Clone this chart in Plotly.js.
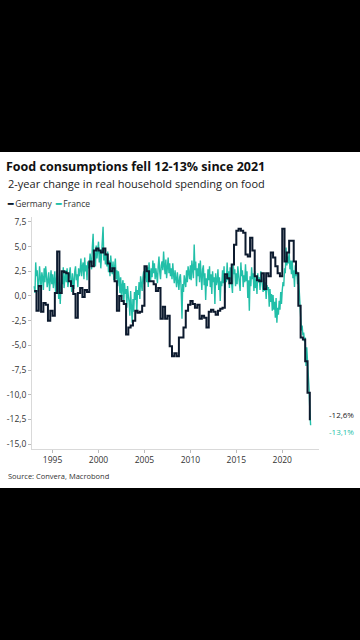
<!DOCTYPE html>
<html>
<head>
<meta charset="utf-8">
<script src="https://cdn.plot.ly/plotly-3.0.1.min.js"></script>
<style>
html,body{margin:0;padding:0;background:#000;width:360px;height:640px;overflow:hidden;}
#chart{position:absolute;left:0;top:152px;width:360px;height:336px;}
</style>
</head>
<body>
<div id="chart"></div>
<script>
// ---- data ----
const germanyStart = [1993, 1];   // quarterly, first quarter
const germany = [
  0.5, -1.5, 1.0, -1.6,      // 1993
  -0.7, -0.9, -2.5, -1.5,    // 1994
  -2.0, 0.3, 4.5, 0.3,       // 1995
  2.5, 2.4, 2.3, 1.5,        // 1996
  1.0, 0.2, -2.2, 0.3,       // 1997
  0.8, -0.1, 0.6, 0.4,       // 1998
  3.5, 3.0, 4.6, 4.8,        // 1999
  4.6, 4.4, 4.8, 4.2,        // 2000
  3.3, 2.5, 2.8, 1.5,        // 2001
  -1.5, 0.0, -0.5, -0.8,     // 2002
  -3.9, -3.2, -3.0, -2.5,    // 2003
  -1.5, -1.7, -1.6, -1.0,    // 2004
  3.0, 2.5, 1.5, 1.5,        // 2005
  1.2, 0.5, 0.8, -2.3,       // 2006
  -1.1, -2.3, -2.0, -5.1,    // 2007
  -6.1, -5.8, -6.1, -4.2,    // 2008
  -4.2, -3.2, -1.5, -0.9,    // 2009
  -0.5, -0.8, -1.2, -0.9,    // 2010
  -2.3, -2.0, -2.2, -3.2,    // 2011
  -1.6, -1.4, -1.6, -1.9,    // 2012
  -1.5, -1.3, -1.2, 2.2,     // 2013
  1.8, 1.3, 3.2, 5.2,        // 2014
  6.6, 6.8, 6.6, 6.4,        // 2015
  4.2, 4.0, 5.9, 4.6,        // 2016
  2.0, 1.6, 1.5, 2.3,        // 2017
  0.7, 2.3, 2.0, 4.4,        // 2018
  3.9, 3.0, 2.3, 2.0,        // 2019
  6.8, 3.5, 4.4, 5.6,        // 2020
  5.6, 3.5, 2.3, -1.0,       // 2021
  -4.2, -4.4, -6.6, -9.8,    // 2022
  -12.6                      // 2023
];
const franceStart = [1993, 1];    // monthly, first month
const france = [
  1.0, 0.3, 3.4, 2.0, 2.6, 0.4, 1.2, 3.0, 1.8, 0.8, 2.4, 1.9,      // 1993
  0.6, 2.8, 1.4, 3.0, 2.2, 0.9, 1.5, 2.4, 0.5, 1.7, 2.6, 1.2,      // 1994
  2.2, 0.8, 1.6, 2.5, 0.4, 1.3, 2.6, 1.9, -0.3, 1.4, -0.8, 0.9,    // 1995
  2.0, 1.2, 2.9, 0.8, 1.6, 2.6, 1.4, 2.8, 0.9, 1.8, 2.2, 2.9,      // 1996
  1.5, 0.4, 2.3, 1.7, 0.7, 2.5, 3.0, 1.6, 2.2, 0.9, 2.8, 2.0,      // 1997
  2.6, 3.8, 2.0, 3.0, 3.4, 1.7, 3.9, 2.5, 3.1, 1.6, 3.5, 2.8,      // 1998
  3.1, 4.3, 3.5, 2.7, 5.0, 6.3, 3.6, 4.4, 3.0, 5.1, 3.8, 4.6,      // 1999
  5.5, 3.4, 4.6, 2.8, 4.0, 5.7, 7.0, 3.6, 4.8, 3.2, 4.3, 3.0,      // 2000
  4.5, 2.4, 3.6, 2.0, 4.1, 3.0, 2.2, 3.5, 1.6, 2.9, 3.8, 1.7,      // 2001
  2.6, 1.0, 2.5, 1.8, 0.3, 1.9, -0.4, 1.1, 1.6, -0.9, 1.3, 0.2,    // 2002
  0.7, -1.2, 1.0, 0.0, -0.6, -2.0, 0.5, -1.1, -2.7, -0.3, -1.6, 0.4, // 2003
  -0.4, 1.0, -1.7, 0.6, 0.1, 1.4, -0.3, 2.0, 1.1, 0.5, 1.9, 2.5,   // 2004
  1.2, 3.0, 2.1, 1.4, 2.9, 0.9, 3.4, 2.0, 1.5, 2.8, 1.9, 3.6,      // 2005
  2.3, 3.3, 1.7, 2.8, 2.2, 1.3, 3.0, 4.0, 2.4, 1.7, 3.1, 3.5,      // 2006
  2.6, 4.5, 3.1, 2.2, 3.7, 1.8, 2.9, 3.9, 2.3, 3.3, 2.0, 2.8,      // 2007
  1.7, 3.3, 2.2, 1.3, 2.6, 1.9, 0.9, 2.4, 1.5, 0.6, 1.9, 2.2,      // 2008
  0.6, -2.3, 1.2, 0.4, 2.1, 1.5, 0.9, 2.6, 1.4, 3.0, 2.2, 1.7,     // 2009
  3.1, 1.6, 3.6, 2.4, 1.8, 5.2, 2.6, 3.5, 1.0, 2.8, 2.0, 3.3,      // 2010
  1.4, 3.6, 2.0, 0.6, 2.7, 3.1, 1.1, 2.3, -0.4, 1.8, 1.0, 2.7,     // 2011
  1.6, 3.0, 0.9, 2.2, 0.2, 2.5, 1.4, 1.9, -0.8, 2.3, 1.1, 1.5,     // 2012
  2.7, 0.6, 1.9, -0.5, 1.5, 1.0, 2.6, 1.3, 3.0, 0.3, 2.0, 1.4,     // 2013
  3.4, 1.6, 2.5, 0.8, 2.9, 2.1, 1.2, 0.3, 3.2, 2.2, 2.7, 1.0,      // 2014
  2.3, 1.2, 3.0, 1.8, 1.1, 0.5, 3.4, 2.0, 2.6, 0.9, 2.1, 1.4,      // 2015
  3.2, 1.5, 2.5, -0.2, 1.6, -1.5, 2.0, 1.0, 2.9, 1.7, 2.3, 0.5,    // 2016
  2.5, 0.8, 1.7, 0.2, 2.3, 1.4, 1.9, 0.6, 2.5, 1.5, 1.2, 0.4,      // 2017
  1.8, 0.5, 1.4, -0.3, 1.1, 0.6, 0.9, -1.1, 0.7, -0.6, 0.2, -1.5,  // 2018
  0.1, -1.4, -0.6, -2.2, -0.2, -2.7, -1.2, -1.9, -0.5, -1.4, 0.4, -0.8, // 2019
  0.6, 1.4, 1.0, 2.8, 2.3, 4.9, 3.1, 4.0, 3.3, 4.5, 2.7, 3.6,      // 2020
  2.2, 3.6, 1.8, 2.6, 0.9, 3.1, 2.0, 2.5, 1.2, 2.3, 0.8, -0.5,     // 2021
  -1.2, -3.5, -3.0, -4.0, -3.7, -4.6, -4.2, -7.1, -5.2, -6.4, -8.0, -9.4, // 2022
  -11.5, -13.1                                                     // 2023
];
const seriesNames = ["Germany", "France"];
const endLabels = ["-12,6%", "-13,1%"];
const yTickVals = [-15, -12.5, -10, -7.5, -5, -2.5, 0, 2.5, 5, 7.5];
const yTickText = ["-15,0", "-12,5", "-10,0", "-7,5", "-5,0", "-2,5", "0,0", "2,5", "5,0", "7,5"];
const xTickVals = ["1995-01-01", "2000-01-01", "2005-01-01", "2010-01-01", "2015-01-01", "2020-01-01"];
const xTickText = ["1995", "2000", "2005", "2010", "2015", "2020"];

// ---- build dates ----
function pad(n){return (n<10?"0":"")+n;}
function dates(start, n, stepMonths){
  const out=[]; let y=start[0], m=start[1];
  for(let i=0;i<n;i++){
    out.push(y+"-"+pad(m)+"-01");
    m+=stepMonths; while(m>12){m-=12;y++;}
  }
  return out;
}
const gx = dates(germanyStart, germany.length, 3);
const fx = dates(franceStart, france.length, 1);

const cG = "#0c1a2e", cF = "#22bfa8";
const FONT = "Open Sans, sans-serif";
const H = 336, PH = 232, PW = 287;

const traces = [
  {x: fx, y: france, type: "scatter", mode: "lines", name: seriesNames[1],
   line: {color: cF, width: 1.4}, showlegend: false},
  {x: gx, y: germany, type: "scatter", mode: "lines", name: seriesNames[0],
   line: {color: cG, width: 2, shape: "hv"}, showlegend: false}
];

const layout = {
  width: 360, height: H,
  paper_bgcolor: "#fff", plot_bgcolor: "#fff",
  separators: ",.",
  margin: {l: 32, r: 41, t: 65, b: 39},
  font: {family: FONT, color: "#333", size: 8.5},
  title: {text: "<b>Food consumptions fell 12-13% since 2021</b>", font: {family: FONT, size: 12.5, color: "#111"},
          xref: "container", yref: "container", x: 6/360, xanchor: "left", y: 1-15/H, yanchor: "middle"},
  xaxis: {type: "date", range: ["1992-10-05", "2024-01-01"], tickvals: xTickVals, ticktext: xTickText,
          showgrid: false, zeroline: false, showline: true, linecolor: "#d9d9d9", linewidth: 1,
          ticks: "outside", ticklen: 3, tickcolor: "#bbb", tickfont: {size: 8.5, color: "#333"}},
  yaxis: {range: [-15.5, 8], tickvals: yTickVals, ticktext: yTickText,
          showgrid: false, zeroline: false, showline: true, linecolor: "#d9d9d9", linewidth: 1,
          ticks: "outside", ticklen: 3, tickcolor: "#bbb", tickfont: {size: 8.5, color: "#333"}},
  annotations: [
    {xref: "paper", yref: "paper", x: -26/PW, y: 1+(217-183)/PH, xanchor: "left", yanchor: "middle", showarrow: false,
     text: "2-year change in real household spending on food", font: {family: FONT, size: 11, color: "#222"}},
    {xref: "paper", yref: "paper", x: -27/PW, y: 1+(217-203)/PH, xanchor: "left", yanchor: "middle", showarrow: false,
     text: "<span style='color:"+cG+"'><b>━</b></span>&nbsp;"+seriesNames[0]+"&nbsp;&nbsp;<span style='color:"+cF+"'><b>━</b></span>&nbsp;"+seriesNames[1],
     font: {family: FONT, size: 8.5, color: "#333"}},
    {xref: "paper", yref: "paper", x: -26/PW, y: -(476-449)/PH, xanchor: "left", yanchor: "middle", showarrow: false,
     text: "Source: Convera, Macrobond", font: {family: FONT, size: 7.5, color: "#333"}},
    {x: gx[gx.length-1], y: germany[germany.length-1], xanchor: "left", yanchor: "middle", showarrow: false,
     xshift: 17, yshift: 6, text: endLabels[0], font: {family: FONT, size: 8, color: "#222"}},
    {x: fx[fx.length-1], y: france[france.length-1], xanchor: "left", yanchor: "middle", showarrow: false,
     xshift: 16, yshift: -6, text: endLabels[1], font: {family: FONT, size: 8, color: cF}}
  ]
};

Plotly.newPlot("chart", traces, layout, {displayModeBar: false, staticPlot: true});
</script>
</body>
</html>
